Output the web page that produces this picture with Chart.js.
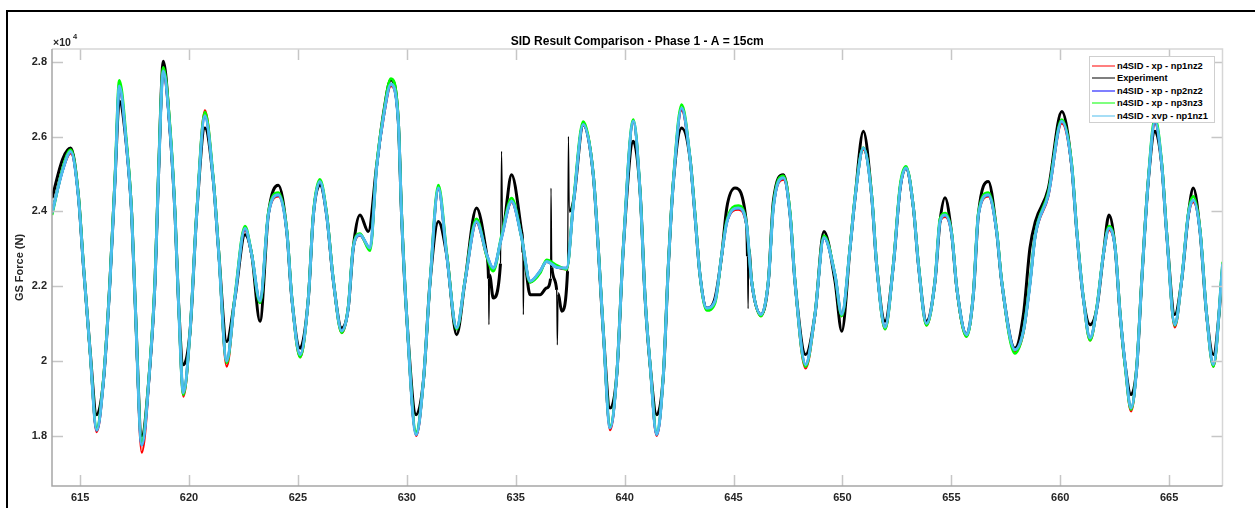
<!DOCTYPE html>
<html>
<head>
<meta charset="utf-8">
<title>SID Result Comparison</title>
<script src="https://cdn.jsdelivr.net/npm/chart.js@4.4.1/dist/chart.umd.min.js"></script>
<style>
  body { margin: 0; background: #fff; }
  #wrap { position: relative; width: 1255px; height: 508px; overflow: hidden; font-family: "Liberation Sans", Arial, sans-serif; }
  #frame { position: absolute; left: 6px; top: 10px; width: 1400px; height: 700px; border-left: 2px solid #000; border-top: 2px solid #000; pointer-events: none; }
  #expo { position: absolute; left: 53px; top: 37px; font-size: 10.5px; line-height: 10px; font-weight: bold; color: #262626; }
  #expo sup { position: absolute; left: 20px; top: -4px; font-size: 7.5px; line-height: 7px; }
  #legend { position: absolute; left: 1089px; top: 56px; width: 126px; height: 67px; border: 1px solid #cfcfcf; background: #fff; box-sizing: border-box; }
  .row { position: absolute; left: 0; height: 12px; font-size: 9.3px; font-weight: bold; color: #000; white-space: nowrap; }
  .row span.ln { position: absolute; left: 2px; top: 5px; width: 23px; height: 2px; opacity: 0.5; }
  .row span.tx { position: absolute; left: 27px; top: 0; line-height: 12px; }
</style>
</head>
<body>
<div id="wrap">
  <canvas id="chart" width="1255" height="508"></canvas>
  <div id="expo">×10<sup>4</sup></div>
  <div id="legend"></div>
  <div id="frame"></div>
</div>
<script>
// time axis (s) and GS force (N)
const modelTime = [
  613.71, 614.2, 614.57, 614.92, 615.15, 615.45, 615.76, 616.07, 616.37, 616.6,
  616.8, 617.14, 617.37, 617.52, 617.83, 618.21, 618.44, 618.59, 618.82, 619.13,
  619.36, 619.51, 619.74, 620.05, 620.35, 620.73, 621.12, 621.35, 621.73, 622.11,
  622.57, 622.88, 623.26, 623.64, 624.1, 624.49, 624.72, 625.1, 625.48, 625.71,
  626.01, 626.32, 626.63, 627.01, 627.31, 627.54, 627.85, 628.31, 628.62, 628.92,
  629.27, 629.61, 629.76, 629.99, 630.43, 630.76, 631.07, 631.45, 631.83, 632.29,
  632.67, 633.2, 633.67, 633.97, 634.35, 634.81, 635.27, 635.66, 636.12, 636.42,
  636.9, 637.34, 637.65, 638.1, 638.56, 638.79, 639.02, 639.33, 639.64, 639.94,
  640.4, 640.71, 640.94, 641.17, 641.47, 641.78, 642.01, 642.24, 642.62, 643.0,
  643.23, 643.46, 643.77, 644.15, 644.46, 644.69, 645.22, 645.6, 645.83, 646.26,
  646.6, 646.83, 647.29, 647.6, 647.82, 648.31, 648.74, 649.15, 649.66, 649.97,
  650.35, 650.58, 650.96, 651.35, 651.57, 651.96, 652.34, 652.65, 652.92, 653.26,
  653.49, 653.86, 654.25, 654.48, 654.71, 655.02, 655.25, 655.7, 656.01, 656.24,
  656.7, 657.08, 657.31, 657.92, 658.31, 658.6, 658.86, 659.45, 660.07, 660.52,
  660.76, 661.06, 661.37, 661.68, 661.98, 662.24, 662.52, 662.75, 662.98, 663.25,
  663.51, 663.74, 664.04, 664.35, 664.66, 664.88, 665.26, 665.57, 665.88, 666.11,
  666.42, 666.72, 667.03, 667.46
];

const xpNp1nz2 = [
  23950, 25100, 25550, 24400, 22550, 20250, 18100, 19400, 22100, 24800,
  27300, 25700, 23900, 21650, 17550, 19850, 22100, 24750, 27700, 26100,
  23900, 21650, 19050, 20750, 23900, 26700, 24800, 23000, 19850, 21700,
  23500, 22800, 21550, 23900, 24400, 23450, 21650, 20100, 21650, 23900,
  24750, 23900, 22100, 20750, 21400, 23000, 23350, 23000, 25200, 26450,
  27350, 26400, 23900, 21200, 18000, 19400, 22100, 24600, 22800, 20850,
  22100, 23700, 22800, 22450, 23300, 24250, 23300, 22100, 22400, 22650,
  22500, 22450, 24200, 26300, 24950, 23000, 20750, 18150, 19600, 23000,
  26400, 24500, 21650, 19850, 18000, 19600, 22550, 24800, 26700, 25400,
  23900, 22300, 21400, 21600, 22800, 23700, 24050, 23600, 22100, 21200,
  22100, 24100, 24850, 23900, 22100, 19800, 21200, 23300, 22300, 21200,
  23000, 24350, 25650, 24350, 22550, 20850, 22550, 24600, 25150, 24050,
  22550, 20950, 22100, 23700, 23850, 23350, 21900, 20650, 21750, 23900,
  24400, 23450, 22100, 20250, 20750, 22000, 23350, 24400, 26350, 25200,
  23450, 21650, 20550, 21400, 22800, 23500, 23000, 21200, 19850, 18650,
  19800, 22100, 24750, 26350, 25200, 23450, 20900, 22100, 23850, 24250,
  23450, 21200, 19850, 22550
];

const xpNp2nz2 = [
  23950, 25100, 25600, 24400, 22570, 20300, 18150, 19450, 22100, 24800,
  27350, 25700, 23900, 21680, 17750, 19900, 22130, 24800, 27750, 26150,
  23900, 21680, 19150, 20800, 23900, 26550, 24800, 23000, 20000, 21700,
  23550, 22840, 21600, 23900, 24440, 23460, 21680, 20170, 21680, 23900,
  24800, 23900, 22130, 20800, 21410, 23020, 23370, 23020, 25200, 26500,
  27400, 26400, 23900, 21240, 18030, 19450, 22130, 24620, 22840, 20880,
  22130, 23730, 22840, 22480, 23300, 24270, 23300, 22130, 22400, 22660,
  22500, 22480, 24200, 26320, 24980, 23020, 20790, 18210, 19630, 23020,
  26410, 24530, 21680, 19900, 18030, 19630, 22570, 24800, 26760, 25430,
  23900, 22300, 21410, 21600, 22840, 23700, 24090, 23640, 22130, 21240,
  22130, 24100, 24900, 23900, 22130, 19900, 21240, 23300, 22300, 21240,
  23020, 24360, 25690, 24360, 22570, 20900, 22570, 24620, 25160, 24090,
  22570, 21000, 22130, 23730, 23900, 23370, 21950, 20700, 21770, 23900,
  24440, 23460, 22130, 20300, 20800, 22000, 23370, 24440, 26410, 25250,
  23460, 21680, 20610, 21410, 22840, 23550, 23020, 21240, 19900, 18740,
  19810, 22130, 24800, 26410, 25250, 23460, 20970, 22130, 23900, 24300,
  23460, 21240, 19900, 22600
];

const xpNp3nz3 = [
  23900, 25150, 25650, 24450, 22600, 20300, 18200, 19500, 22150, 24900,
  27500, 25800, 23950, 21700, 17850, 19950, 22200, 24900, 27850, 26250,
  23950, 21700, 19100, 20800, 23950, 26650, 24850, 23050, 19950, 21750,
  23600, 22850, 21550, 23950, 24500, 23500, 21700, 20100, 21700, 23950,
  24850, 23950, 22150, 20750, 21450, 23050, 23400, 22950, 25250, 26550,
  27550, 26450, 23950, 21250, 18100, 19450, 22150, 24700, 22900, 20850,
  22150, 23800, 22800, 22400, 23350, 24350, 23300, 22100, 22350, 22700,
  22550, 22450, 24250, 26400, 25000, 23050, 20800, 18250, 19650, 23050,
  26450, 24550, 21700, 19900, 18100, 19650, 22600, 24850, 26850, 25450,
  23950, 22300, 21350, 21550, 22850, 23750, 24150, 23650, 22150, 21200,
  22150, 24150, 24950, 23950, 22150, 19850, 21250, 23350, 22300, 21200,
  23050, 24400, 25700, 24400, 22600, 20850, 22600, 24700, 25200, 24100,
  22600, 20950, 22150, 23800, 23950, 23400, 21950, 20650, 21800, 23950,
  24500, 23500, 22150, 20200, 20800, 22050, 23400, 24500, 26450, 25300,
  23500, 21700, 20550, 21450, 22850, 23600, 23050, 21250, 19850, 18700,
  19850, 22150, 24850, 26500, 25300, 23500, 20950, 22150, 23950, 24400,
  23500, 21250, 19850, 22650
];

const xvpNp1nz1 = [
  23950, 25100, 25600, 24400, 22570, 20300, 18150, 19450, 22100, 24800,
  27350, 25700, 23900, 21680, 17750, 19900, 22130, 24800, 27750, 26150,
  23900, 21680, 19150, 20800, 23900, 26550, 24800, 23000, 20000, 21700,
  23550, 22840, 21600, 23900, 24440, 23460, 21680, 20170, 21680, 23900,
  24800, 23900, 22130, 20800, 21410, 23020, 23370, 23020, 25200, 26500,
  27400, 26400, 23900, 21240, 18030, 19450, 22130, 24620, 22840, 20880,
  22130, 23730, 22840, 22480, 23300, 24270, 23300, 22130, 22400, 22660,
  22500, 22480, 24200, 26320, 24980, 23020, 20790, 18210, 19630, 23020,
  26410, 24530, 21680, 19900, 18030, 19630, 22570, 24800, 26760, 25430,
  23900, 22300, 21410, 21600, 22840, 23700, 24090, 23640, 22130, 21240,
  22130, 24100, 24900, 23900, 22130, 19900, 21240, 23300, 22300, 21240,
  23020, 24360, 25690, 24360, 22570, 20900, 22570, 24620, 25160, 24090,
  22570, 21000, 22130, 23730, 23900, 23370, 21950, 20700, 21770, 23900,
  24440, 23460, 22130, 20300, 20800, 22000, 23370, 24440, 26410, 25250,
  23460, 21680, 20610, 21410, 22840, 23550, 23020, 21240, 19900, 18740,
  19810, 22130, 24800, 26410, 25250, 23460, 20970, 22130, 23900, 24300,
  23460, 21240, 19900, 22600
];

const expTime = [
  613.71, 614.2, 614.57, 614.92, 615.15, 615.45, 615.76, 616.07, 616.37, 616.6,
  616.8, 617.14, 617.37, 617.52, 617.83, 618.21, 618.44, 618.59, 618.82, 619.13,
  619.36, 619.51, 619.74, 620.05, 620.35, 620.73, 621.12, 621.35, 621.73, 622.11,
  622.57, 622.88, 623.26, 623.64, 624.1, 624.49, 624.72, 625.1, 625.48, 625.71,
  626.01, 626.32, 626.63, 627.01, 627.31, 627.54, 627.85, 628.23, 628.62, 628.92,
  629.27, 629.61, 629.76, 629.99, 630.43, 630.76, 631.07, 631.45, 631.83, 632.29,
  632.67, 633.2, 633.67, 633.75, 633.77, 633.8, 633.97, 634.3, 634.35, 634.4,
  634.81, 635.27, 635.33, 635.35, 635.38, 635.66, 636.12, 636.42, 636.6, 636.62,
  636.66, 636.88, 636.91, 636.95, 637.11, 637.38, 637.42, 637.46, 637.65, 638.1,
  638.56, 638.79, 639.02, 639.33, 639.64, 639.94, 640.4, 640.71, 640.94, 641.17,
  641.47, 641.78, 642.01, 642.24, 642.62, 643.0, 643.23, 643.46, 643.77, 644.15,
  644.46, 644.69, 645.07, 645.6, 645.64, 645.67, 645.7, 645.83, 646.26, 646.6,
  646.83, 647.29, 647.6, 647.82, 648.31, 648.74, 649.15, 649.66, 649.97, 650.35,
  650.58, 650.96, 651.35, 651.57, 651.96, 652.34, 652.65, 652.92, 653.26, 653.49,
  653.86, 654.25, 654.48, 654.71, 655.02, 655.25, 655.7, 656.01, 656.24, 656.7,
  657.08, 657.31, 657.92, 658.31, 658.61, 658.86, 659.45, 660.07, 660.52, 660.76,
  661.06, 661.37, 661.68, 661.98, 662.24, 662.52, 662.75, 662.98, 663.25, 663.51,
  663.74, 664.04, 664.35, 664.66, 664.88, 665.26, 665.57, 665.88, 666.11, 666.42,
  666.72, 667.03, 667.46
];

const experiment = [
  24350, 25400, 25690, 24440, 22570, 20340, 18560, 19460, 22130, 24810,
  26950, 25690, 23910, 21680, 18000, 19900, 22130, 24800, 28010, 26150,
  23900, 21680, 19900, 20800, 23900, 26230, 24800, 23020, 20520, 21680,
  23370, 22840, 21060, 23900, 24700, 23460, 21680, 20340, 21680, 23900,
  24710, 23900, 22130, 20880, 21410, 23020, 23900, 23460, 25250, 26580,
  27520, 26410, 23900, 21240, 18560, 19450, 22130, 23730, 22840, 20700,
  22130, 24090, 22840, 22200, 20970, 22300, 21680, 22600, 25600, 23600,
  24980, 23460, 22900, 21240, 22700, 21770, 21770, 21950, 22200, 24620,
  22500, 21900, 20430, 21800, 21330, 22400, 26000, 24000, 24270, 26320,
  24980, 23020, 20790, 18740, 19630, 23020, 25870, 24530, 21680, 19900,
  18560, 19630, 22570, 24800, 26230, 25430, 23900, 22300, 21410, 21680,
  22840, 24090, 24620, 23640, 22800, 21400, 23000, 22130, 21240, 22130,
  24270, 24980, 23900, 22130, 20170, 21240, 23460, 22130, 20790, 23020,
  24360, 26140, 24360, 22570, 21060, 22570, 24620, 25160, 24090, 22570,
  21060, 22130, 23730, 24360, 23370, 21950, 20700, 21770, 23900, 24800,
  23460, 22130, 20340, 21240, 23020, 23730, 24600, 26670, 25250, 23460,
  21680, 20970, 21410, 22840, 23900, 23020, 21240, 19900, 19100, 19810,
  22130, 24800, 26140, 25250, 23460, 21240, 22130, 23900, 24620, 23460,
  21240, 20170, 22300
];

// short sensor glitches in the measured signal
const spikeTimes = [633.77, 634.35, 635.35, 636.62, 636.91, 637.42, 645.67];

const seriesNames = ['n4SID - xp - np1nz2', 'Experiment', 'n4SID - xp - np2nz2', 'n4SID - xp - np3nz3', 'n4SID - xvp - np1nz1'];
const seriesColors = ['#ff0000', '#000000', '#0000ff', '#00ff00', '#4dbeee'];

const xTicks = [615, 620, 625, 630, 635, 640, 645, 650, 655, 660, 665];
const yTicks = [18000, 20000, 22000, 24000, 26000, 28000];

const toPoints = (ts, vs) => ts.map((t, i) => ({ x: t, y: vs[i] }));

const font = { family: '"Liberation Sans", Arial, sans-serif', size: 11, weight: 'bold' };
const textColor = '#262626';

// MATLAB style box with ticks pointing inwards
const innerTicks = {
  id: 'innerTicks',
  afterDatasetsDraw(chart) {
    const { ctx, chartArea: a, scales } = chart;
    const len = 11;
    ctx.save();
    ctx.strokeStyle = '#c6c6c6';
    ctx.lineWidth = 1.5;
    ctx.beginPath();
    xTicks.forEach(t => {
      const px = Math.round(scales.x.getPixelForValue(t)) + 0.5;
      ctx.moveTo(px, a.bottom); ctx.lineTo(px, a.bottom - len);
      ctx.moveTo(px, a.top); ctx.lineTo(px, a.top + len);
    });
    yTicks.forEach(v => {
      const py = Math.round(scales.y.getPixelForValue(v)) + 0.5;
      ctx.moveTo(a.left, py); ctx.lineTo(a.left + len, py);
      ctx.moveTo(a.right, py); ctx.lineTo(a.right - len, py);
    });
    ctx.stroke();
    ctx.strokeStyle = '#d6d6d6';
    ctx.beginPath();
    ctx.moveTo(a.left, a.top); ctx.lineTo(a.right, a.top); ctx.lineTo(a.right, a.bottom);
    ctx.stroke();
    ctx.strokeStyle = '#a6a6a6';
    ctx.beginPath();
    ctx.moveTo(a.left, a.top); ctx.lineTo(a.left, a.bottom); ctx.lineTo(a.right, a.bottom);
    ctx.stroke();
    ctx.restore();
  }
};

const isSpike = ctx => spikeTimes.includes(ctx.p0.parsed.x) || spikeTimes.includes(ctx.p1.parsed.x);

const datasets = [
  { label: seriesNames[4], data: toPoints(modelTime, xvpNp1nz1), borderColor: seriesColors[4], borderWidth: 3, order: 0 },
  { label: seriesNames[3], data: toPoints(modelTime, xpNp3nz3), borderColor: seriesColors[3], borderWidth: 2.8, order: 1 },
  { label: seriesNames[2], data: toPoints(modelTime, xpNp2nz2), borderColor: seriesColors[2], borderWidth: 2.6, order: 2 },
  { label: seriesNames[1], data: toPoints(expTime, experiment), borderColor: seriesColors[1], borderWidth: 3,
    segment: { borderWidth: ctx => isSpike(ctx) ? 1.2 : undefined }, order: 3 },
  { label: seriesNames[0], data: toPoints(modelTime, xpNp1nz2), borderColor: seriesColors[0], borderWidth: 2.4, order: 4 }
];

new Chart(document.getElementById('chart'), {
  type: 'line',
  data: { datasets },
  options: {
    responsive: false,
    animation: false,
    events: [],
    layout: { padding: { left: 0, top: 0, right: 32.5, bottom: 0 } },
    elements: {
      point: { radius: 0 },
      line: { cubicInterpolationMode: 'monotone', fill: false, borderJoinStyle: 'round' }
    },
    plugins: {
      legend: { display: false },
      tooltip: { enabled: false },
      title: {
        display: true,
        text: 'SID Result Comparison - Phase 1 - A = 15cm',
        fullSize: false,
        color: '#000',
        font: { family: font.family, size: 12, weight: 'bold' },
        padding: { top: 34, bottom: 0.6 }
      }
    },
    scales: {
      x: {
        type: 'linear',
        min: 613.71,
        max: 667.45,
        afterBuildTicks: s => { s.ticks = xTicks.map(v => ({ value: v })); },
        afterFit: s => { s.height = 22; },
        grid: { display: false, drawTicks: false },
        border: { display: false },
        ticks: { color: textColor, font, padding: 5 }
      },
      y: {
        min: 16655,
        max: 28340,
        afterBuildTicks: s => { s.ticks = yTicks.map(v => ({ value: v })); },
        afterFit: s => { s.width = 52; },
        grid: { display: false, drawTicks: false },
        border: { display: false },
        ticks: { color: textColor, font, padding: 5, callback: v => String(v / 10000) },
        title: { display: true, text: 'GS Force (N)', color: textColor, font, padding: { top: 13, bottom: 0 } }
      }
    }
  },
  plugins: [innerTicks]
});

// legend box, top right inside the axes
const legend = document.getElementById('legend');
seriesNames.forEach((name, i) => {
  const row = document.createElement('div');
  row.className = 'row';
  row.style.top = (2.5 + i * 12.6) + 'px';
  row.innerHTML = '<span class="ln" style="background:' + seriesColors[i] + '"></span><span class="tx">' + name + '</span>';
  legend.appendChild(row);
});
</script>
</body>
</html>
